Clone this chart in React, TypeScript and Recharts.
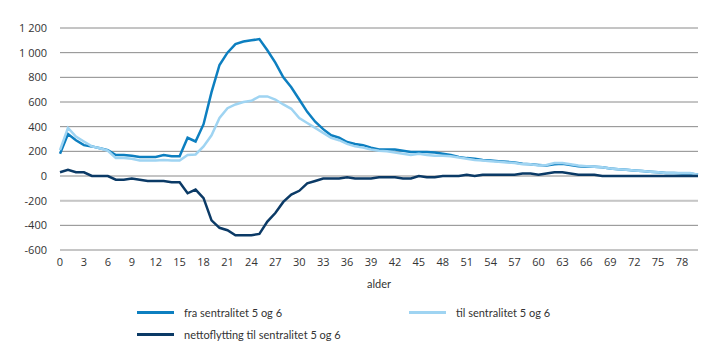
import React from 'react';
import { LineChart, Line, XAxis, YAxis, CartesianGrid, ReferenceLine, Label } from 'recharts';

const ages = Array.from({ length: 81 }, (_, i) => String(i));

const fra = [
  180, 340, 290, 250, 240, 225, 210, 170, 170, 165,
  155, 155, 155, 170, 160, 160, 310, 280, 420, 680,
  900, 1000, 1070, 1090, 1100, 1110, 1020, 920, 800, 720,
  620, 520, 440, 380, 330, 310, 275, 260, 250, 230,
  215, 215, 215, 205, 195, 195, 195, 190, 180, 170,
  155, 145, 140, 130, 125, 120, 115, 110, 100, 95,
  90, 85, 95, 100, 90, 80, 75, 75, 70, 60,
  55, 50, 45, 40, 35, 30, 25, 25, 20, 20,
  10,
];

const til = [
  210, 390, 320, 280, 240, 225, 205, 145, 145, 140,
  125, 125, 125, 130, 125, 125, 170, 175, 240, 330,
  470, 550, 580, 600, 610, 645, 645, 620, 580, 545,
  470, 430, 390, 350, 310, 290, 260, 240, 230, 215,
  205, 200, 190, 180, 170, 180, 170, 165, 165, 160,
  150, 140, 130, 125, 120, 115, 110, 105, 95, 95,
  85, 90, 105, 105, 95, 85, 80, 75, 70, 60,
  55, 50, 45, 40, 35, 30, 25, 25, 25, 25,
  10,
];

const netto = [
  30, 50, 30, 30, 0, 0, 0, -30, -30, -20,
  -30, -40, -40, -40, -50, -50, -140, -110, -180, -360,
  -420, -440, -480, -480, -480, -470, -370, -300, -210, -150,
  -120, -60, -40, -20, -20, -20, -10, -20, -20, -20,
  -10, -10, -10, -20, -20, 0, -10, -10, 0, 0,
  0, 10, 0, 10, 10, 10, 10, 10, 20, 20,
  10, 20, 30, 30, 20, 10, 10, 10, 0, 0,
  0, 0, 0, 0, 0, 0, 0, 0, 0, 0,
  0,
];

const yTicks = [-600, -400, -200, 0, 200, 400, 600, 800, 1000, 1200];

const FRA_COLOR = '#0d7fc0';
const TIL_COLOR = '#9fd4f2';
const NETTO_COLOR = '#0b3a66';
const FONT = '"Open Sans", "Noto Sans", sans-serif';
const LEGEND_FONT = 'Lato, "Open Sans", sans-serif';

const data = ages.map((a, i) => ({ age: a, fra: fra[i], til: til[i], netto: netto[i] }));

const fmt = (v: number) => {
  const s = String(Math.abs(v)).replace(/\B(?=(\d{3})+(?!\d))/g, ' ');
  return v < 0 ? '-' + s : s;
};

const LegendItem = ({ x, y, color, text }: { x: number; y: number; color: string; text: string }) => (
  <div style={{ position: 'absolute', left: x, top: y - 8, display: 'flex', alignItems: 'center', height: 16 }}>
    <div style={{ width: 37, height: 3, background: color }} />
    <span style={{ marginLeft: 10, fontSize: 11, color: '#333', fontFamily: LEGEND_FONT, whiteSpace: 'nowrap' }}>{text}</span>
  </div>
);

export default function App() {
  return (
    <div style={{ position: 'absolute', left: 0, top: 0, width: 719, height: 362, background: '#fff' }}>
      <LineChart width={719} height={362} data={data} margin={{ top: 28, right: 21, bottom: 82, left: 0 }}>
        <CartesianGrid vertical={false} stroke="#8a8a8a" strokeWidth={1} />
        <ReferenceLine y={-200} stroke="#c6c6c6" strokeWidth={2} />
        <ReferenceLine y={-600} stroke="#c6c6c6" strokeWidth={2} />
        <XAxis
          dataKey="age"
          interval={2}
          axisLine={false}
          tickLine={false}
          tickSize={0}
          tickMargin={8}
          height={30}
          tick={{ fill: '#333', fontSize: 11, fontFamily: FONT }}
        >
          <Label value="alder" position="insideBottom" offset={-8} style={{ fill: '#333', fontSize: 11, fontFamily: LEGEND_FONT }} />
        </XAxis>
        <YAxis
          domain={[-600, 1200]}
          ticks={yTicks}
          width={60}
          axisLine={false}
          tickLine={false}
          tickSize={0}
          tickMargin={13}
          tickFormatter={fmt}
          tick={{ fill: '#333', fontSize: 11, fontFamily: FONT }}
        />
        <Line type="linear" dataKey="fra" stroke={FRA_COLOR} strokeWidth={2.5} dot={false} isAnimationActive={false} />
        <Line type="linear" dataKey="til" stroke={TIL_COLOR} strokeWidth={2.5} dot={false} isAnimationActive={false} />
        <Line type="linear" dataKey="netto" stroke={NETTO_COLOR} strokeWidth={2.5} dot={false} isAnimationActive={false} />
      </LineChart>
      <LegendItem x={137} y={312} color={FRA_COLOR} text="fra sentralitet 5 og 6" />
      <LegendItem x={409} y={312} color={TIL_COLOR} text="til sentralitet 5 og 6" />
      <LegendItem x={137} y={334} color={NETTO_COLOR} text="nettoflytting til sentralitet 5 og 6" />
    </div>
  );
}
